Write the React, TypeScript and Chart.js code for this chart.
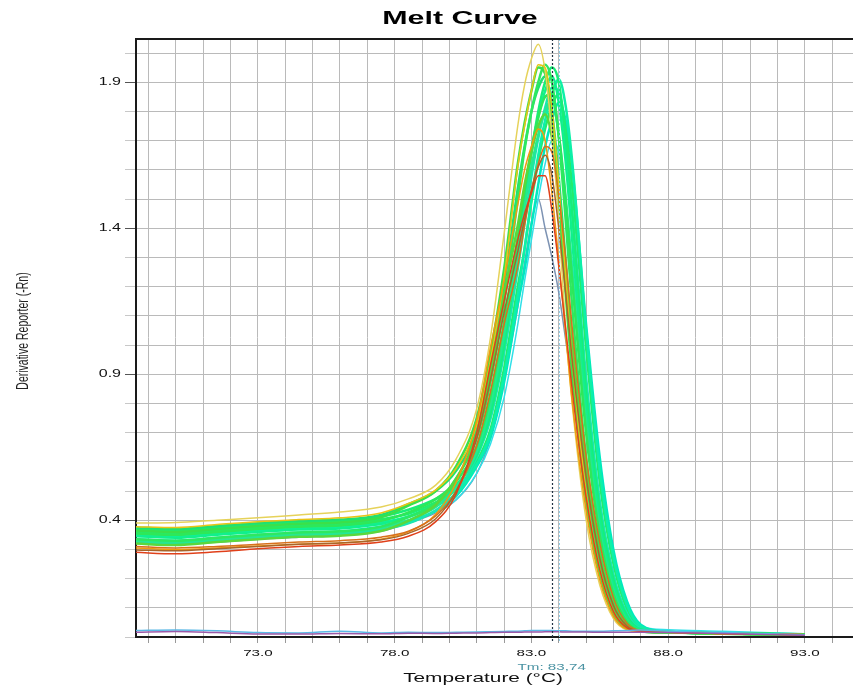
import React, { useEffect, useRef } from 'react';
import { Chart, registerables } from 'chart.js';

Chart.register(...registerables);

// Temperature sample points (°C)
const TEMPS = [68.5, 70, 71.5, 73, 74.5, 76, 77.5, 78.5, 79.5, 80.25, 81, 81.5, 82, 82.5, 82.75, 83, 83.25, 83.5, 83.75, 84, 84.25, 84.5, 85, 85.5, 86, 86.5, 87, 88, 90, 93];

// Derivative reporter (-Rn) per well
const G1 = [0.365, 0.360, 0.370, 0.380, 0.388, 0.392, 0.410, 0.450, 0.500, 0.585, 0.750, 0.970, 1.260, 1.620, 1.760, 1.870, 1.950, 1.930, 1.740, 1.490, 1.180, 0.890, 0.466, 0.214, 0.079, 0.029, 0.019, 0.016, 0.012, 0.008];
const G2 = [0.375, 0.370, 0.380, 0.390, 0.398, 0.402, 0.418, 0.455, 0.500, 0.570, 0.710, 0.920, 1.200, 1.535, 1.680, 1.800, 1.880, 1.920, 1.800, 1.575, 1.290, 0.990, 0.530, 0.250, 0.095, 0.033, 0.020, 0.016, 0.012, 0.009];
const G3 = [0.335, 0.330, 0.340, 0.350, 0.358, 0.362, 0.378, 0.411, 0.458, 0.544, 0.682, 0.872, 1.140, 1.500, 1.670, 1.800, 1.900, 1.960, 1.900, 1.710, 1.430, 1.120, 0.614, 0.298, 0.121, 0.042, 0.021, 0.016, 0.011, 0.008];
const G4 = [0.355, 0.350, 0.360, 0.370, 0.378, 0.382, 0.398, 0.427, 0.472, 0.533, 0.654, 0.824, 1.080, 1.370, 1.530, 1.670, 1.780, 1.850, 1.860, 1.720, 1.490, 1.210, 0.698, 0.346, 0.147, 0.051, 0.022, 0.016, 0.012, 0.008];
const G5 = [0.345, 0.340, 0.350, 0.360, 0.368, 0.372, 0.388, 0.413, 0.456, 0.515, 0.632, 0.782, 1.024, 1.340, 1.510, 1.660, 1.780, 1.870, 1.920, 1.830, 1.630, 1.350, 0.790, 0.402, 0.178, 0.063, 0.024, 0.016, 0.012, 0.008];
const G6 = [0.325, 0.320, 0.330, 0.340, 0.348, 0.352, 0.368, 0.389, 0.434, 0.495, 0.616, 0.746, 0.972, 1.260, 1.418, 1.576, 1.708, 1.812, 1.880, 1.870, 1.692, 1.448, 0.890, 0.466, 0.214, 0.079, 0.029, 0.017, 0.012, 0.008];
const G7 = [0.360, 0.355, 0.365, 0.375, 0.383, 0.387, 0.403, 0.422, 0.461, 0.505, 0.600, 0.710, 0.920, 1.200, 1.330, 1.490, 1.630, 1.740, 1.820, 1.860, 1.740, 1.530, 0.990, 0.530, 0.250, 0.095, 0.033, 0.017, 0.012, 0.008];
const G8 = [0.335, 0.330, 0.340, 0.350, 0.358, 0.362, 0.378, 0.395, 0.432, 0.482, 0.584, 0.682, 0.872, 1.140, 1.260, 1.410, 1.550, 1.680, 1.770, 1.830, 1.770, 1.600, 1.070, 0.614, 0.298, 0.121, 0.042, 0.018, 0.013, 0.009];
const G9 = [0.320, 0.315, 0.325, 0.335, 0.343, 0.347, 0.363, 0.398, 0.452, 0.542, 0.696, 0.896, 1.170, 1.410, 1.550, 1.660, 1.750, 1.790, 1.710, 1.520, 1.270, 1.000, 0.572, 0.274, 0.108, 0.037, 0.020, 0.016, 0.011, 0.008];
const G10 = [0.370, 0.365, 0.375, 0.385, 0.393, 0.397, 0.413, 0.436, 0.473, 0.520, 0.624, 0.764, 0.998, 1.320, 1.500, 1.660, 1.800, 1.900, 1.950, 1.900, 1.710, 1.440, 0.840, 0.434, 0.196, 0.071, 0.026, 0.017, 0.012, 0.009];
const G11 = [0.330, 0.325, 0.335, 0.345, 0.353, 0.357, 0.373, 0.400, 0.445, 0.512, 0.636, 0.796, 1.040, 1.310, 1.470, 1.610, 1.720, 1.800, 1.840, 1.720, 1.510, 1.240, 0.740, 0.370, 0.160, 0.055, 0.022, 0.016, 0.012, 0.008];
const G12 = [0.350, 0.345, 0.355, 0.365, 0.373, 0.377, 0.393, 0.411, 0.449, 0.491, 0.592, 0.696, 0.896, 1.170, 1.330, 1.500, 1.650, 1.770, 1.860, 1.910, 1.820, 1.620, 1.050, 0.572, 0.274, 0.108, 0.037, 0.018, 0.013, 0.009];
const Y1 = [0.390, 0.392, 0.400, 0.408, 0.418, 0.428, 0.445, 0.473, 0.520, 0.610, 0.782, 1.024, 1.380, 1.750, 1.890, 1.980, 2.030, 1.940, 1.720, 1.420, 1.060, 0.790, 0.402, 0.178, 0.063, 0.024, 0.019, 0.016, 0.012, 0.008];
const Y2 = [0.378, 0.375, 0.385, 0.395, 0.402, 0.408, 0.425, 0.457, 0.504, 0.578, 0.728, 0.946, 1.230, 1.610, 1.750, 1.870, 1.960, 1.950, 1.810, 1.550, 1.240, 0.940, 0.498, 0.232, 0.087, 0.031, 0.020, 0.016, 0.012, 0.008];
const O1 = [0.305, 0.300, 0.305, 0.312, 0.318, 0.322, 0.335, 0.360, 0.420, 0.530, 0.740, 0.990, 1.220, 1.480, 1.600, 1.680, 1.740, 1.700, 1.520, 1.290, 1.040, 0.800, 0.434, 0.196, 0.071, 0.026, 0.019, 0.016, 0.012, 0.008];
const O2 = [0.310, 0.305, 0.310, 0.318, 0.325, 0.330, 0.342, 0.362, 0.415, 0.500, 0.655, 0.840, 1.070, 1.270, 1.410, 1.530, 1.620, 1.680, 1.660, 1.510, 1.300, 1.050, 0.620, 0.322, 0.134, 0.046, 0.021, 0.016, 0.012, 0.008];
const R1 = [0.290, 0.285, 0.292, 0.302, 0.310, 0.315, 0.325, 0.345, 0.395, 0.490, 0.700, 0.930, 1.150, 1.360, 1.450, 1.520, 1.580, 1.580, 1.460, 1.270, 1.060, 0.840, 0.480, 0.230, 0.087, 0.031, 0.020, 0.016, 0.012, 0.008];
const B1 = [0.298, 0.295, 0.302, 0.310, 0.318, 0.322, 0.333, 0.355, 0.405, 0.500, 0.680, 0.880, 1.110, 1.320, 1.430, 1.530, 1.610, 1.650, 1.580, 1.400, 1.180, 0.940, 0.550, 0.270, 0.108, 0.037, 0.020, 0.016, 0.012, 0.008];
const GB = [0.320, 0.318, 0.325, 0.335, 0.342, 0.348, 0.362, 0.390, 0.425, 0.470, 0.560, 0.680, 0.880, 1.130, 1.280, 1.420, 1.500, 1.400, 1.300, 1.180, 1.020, 0.860, 0.520, 0.260, 0.100, 0.035, 0.020, 0.016, 0.012, 0.008];
const CY = [0.355, 0.352, 0.360, 0.368, 0.372, 0.376, 0.385, 0.400, 0.430, 0.470, 0.560, 0.660, 0.820, 1.070, 1.220, 1.360, 1.500, 1.620, 1.700, 1.660, 1.500, 1.280, 0.800, 0.420, 0.200, 0.075, 0.035, 0.025, 0.020, 0.010];
const N1 = [0.016, 0.019, 0.015, 0.010, 0.010, 0.012, 0.011, 0.013, 0.012, 0.013, 0.014, 0.015, 0.016, 0.016, 0.017, 0.017, 0.017, 0.018, 0.018, 0.018, 0.017, 0.017, 0.017, 0.016, 0.016, 0.016, 0.016, 0.015, 0.012, 0.006];
const N2 = [0.022, 0.024, 0.021, 0.015, 0.014, 0.020, 0.014, 0.016, 0.015, 0.016, 0.017, 0.018, 0.019, 0.020, 0.021, 0.022, 0.022, 0.022, 0.022, 0.021, 0.021, 0.020, 0.020, 0.020, 0.021, 0.022, 0.024, 0.020, 0.015, 0.008];

// Axis ticks / labels
const X_GRID = [69, 70, 71, 72, 73, 74, 75, 76, 77, 78, 79, 80, 81, 82, 83, 84, 85, 86, 87, 88, 89, 90, 91, 92, 93, 94];
const X_LABELS = [73, 78, 83, 88, 93];
const Y_GRID = [0, 0.1, 0.2, 0.3, 0.4, 0.5, 0.6, 0.7, 0.8, 0.9, 1.0, 1.1, 1.2, 1.3, 1.4, 1.5, 1.6, 1.7, 1.8, 1.9, 2.0];
const Y_LABELS = [0.4, 0.9, 1.4, 1.9];
const TM = 83.74;
const TM_MARK2 = 84.0;
const TM_TEXT = 'Tm: 83,74';
const TITLE = 'Melt Curve';
const X_TITLE = 'Temperature (°C)';
const Y_TITLE = 'Derivative Reporter (-Rn)';

const SERIES = [
  { values: N1, color: '#9b5aa8', width: 1.5 },
  { values: N2, color: '#5ab8e6', width: 1.5 },
  { values: R1, color: '#e0401a', width: 1.5 },
  { values: B1, color: '#a8642a', width: 1.5 },
  { values: O2, color: '#d8701c', width: 1.5 },
  { values: O1, color: '#f09a10', width: 1.5 },
  { values: Y2, color: '#e8c417', width: 1.5 },
  { values: Y1, color: '#e6d25a', width: 1.5 },
  { values: G9, color: '#5ad83c', width: 2.5 },
  { values: G1, color: '#3be04a', width: 2.5 },
  { values: G3, color: '#2ee860', width: 2.5 },
  { values: G2, color: '#20e070', width: 2.5 },
  { values: G4, color: '#2ee858', width: 2.5 },
  { values: G11, color: '#26e890', width: 2.5 },
  { values: G5, color: '#10f08c', width: 2.5 },
  { values: G10, color: '#18ee78', width: 2.5 },
  { values: G6, color: '#19e6b0', width: 2.5 },
  { values: G12, color: '#0ef0a8', width: 2.5 },
  { values: G7, color: '#22ec6c', width: 2.5 },
  { values: G8, color: '#00e8c0', width: 2.5 },
  { values: CY, color: '#30e0e8', width: 1.5 },
  { values: GB, color: '#7d93b3', width: 1.5 },
];

const STRETCH = 1.6;
const FONT = '"Liberation Sans", Arial, sans-serif';

function stretchedText(ctx: CanvasRenderingContext2D, text: string, x: number, y: number, font: string, color: string, align: CanvasTextAlign, baseline: CanvasTextBaseline, rotate = false) {
  ctx.save();
  ctx.font = font;
  ctx.fillStyle = color;
  ctx.textAlign = align;
  ctx.textBaseline = baseline;
  ctx.translate(x, y);
  ctx.scale(STRETCH, 1);
  if (rotate) ctx.rotate(-Math.PI / 2);
  ctx.fillText(text, 0, 0);
  ctx.restore();
}

const decorPlugin = {
  id: 'decor',
  afterDatasetsDraw(chart: any) {
    const ctx = chart.ctx as CanvasRenderingContext2D;
    const area = chart.chartArea;
    const xs = chart.scales.x;
    ctx.save();
    const x2 = Math.round(xs.getPixelForValue(TM_MARK2)) + 0.5;
    ctx.strokeStyle = '#8fd0ea';
    ctx.lineWidth = 1;
    ctx.setLineDash([2, 2]);
    ctx.beginPath();
    ctx.moveTo(x2, area.top);
    ctx.lineTo(x2, area.bottom + 5);
    ctx.stroke();
    const x1 = Math.round(xs.getPixelForValue(TM)) + 0.5;
    ctx.strokeStyle = '#223344';
    ctx.lineWidth = 1.2;
    ctx.setLineDash([2, 2]);
    ctx.beginPath();
    ctx.moveTo(x1, area.top);
    ctx.lineTo(x1, area.bottom + 6);
    ctx.stroke();
    ctx.restore();
  },
  afterDraw(chart: any) {
    const ctx = chart.ctx as CanvasRenderingContext2D;
    const area = chart.chartArea;
    const xs = chart.scales.x;
    const ys = chart.scales.y;
    ctx.save();
    ctx.strokeStyle = '#1a1a1a';
    ctx.lineWidth = 2;
    ctx.beginPath();
    ctx.moveTo(area.left - 1, area.top);
    ctx.lineTo(area.right, area.top);
    ctx.stroke();
    ctx.restore();
    stretchedText(ctx, TITLE, 460, 24, `bold 19px ${FONT}`, '#000', 'center', 'alphabetic');
    for (const v of Y_LABELS) {
      stretchedText(ctx, v.toFixed(1), area.left - 15, ys.getPixelForValue(v), `10px ${FONT}`, '#111', 'right', 'middle');
    }
    for (const v of X_LABELS) {
      stretchedText(ctx, v.toFixed(1), xs.getPixelForValue(v), area.bottom + 16, `9.5px ${FONT}`, '#111', 'center', 'middle');
    }
    stretchedText(ctx, TM_TEXT, xs.getPixelForValue(TM), area.bottom + 30, `9.5px ${FONT}`, '#4b93a3', 'center', 'middle');
    stretchedText(ctx, X_TITLE, 483, 682, `13px ${FONT}`, '#111', 'center', 'alphabetic');
    stretchedText(ctx, Y_TITLE, 23, 331, `10.5px ${FONT}`, '#222', 'center', 'middle', true);
  },
};

export default function App() {
  const ref = useRef<HTMLCanvasElement | null>(null);
  useEffect(() => {
    if (!ref.current) return;
    const chart = new Chart(ref.current, {
      type: 'line',
      data: {
        datasets: SERIES.map((s) => ({
          data: TEMPS.map((t, i) => ({ x: t, y: s.values[i] })),
          borderColor: s.color,
          borderWidth: s.width,
          pointRadius: 0,
          fill: false,
          cubicInterpolationMode: 'monotone' as const,
        })),
      },
      options: {
        animation: false,
        responsive: false,
        devicePixelRatio: 1,
        layout: { padding: { top: 39, left: 0, right: 0, bottom: 0 } },
        plugins: {
          legend: { display: false },
          tooltip: { enabled: false },
          title: { display: false },
        },
        scales: {
          x: {
            type: 'linear',
            min: 68.54,
            max: 94.76,
            afterBuildTicks: (s: any) => {
              s.ticks = X_GRID.map((v) => ({ value: v }));
            },
            afterFit: (s: any) => {
              s.height = 49;
            },
            ticks: { display: false },
            grid: { color: '#bababa', lineWidth: 1, drawTicks: true, tickLength: 6, tickColor: '#9a9a9a' },
            border: { display: true, color: '#1a1a1a', width: 2 },
          },
          y: {
            type: 'linear',
            min: 0,
            max: 2.048,
            afterBuildTicks: (s: any) => {
              s.ticks = Y_GRID.map((v) => ({ value: v }));
            },
            afterFit: (s: any) => {
              s.width = 136;
            },
            ticks: { display: false },
            grid: {
              color: '#bababa',
              lineWidth: 1,
              drawTicks: true,
              tickLength: 11,
              tickColor: (c: any) =>
                c.tick && Y_LABELS.some((v) => Math.abs(v - c.tick.value) < 1e-6) ? '#555555' : '#c8c8c8',
            },
            border: { display: true, color: '#1a1a1a', width: 2 },
          },
        },
      },
      plugins: [decorPlugin],
    } as any);
    return () => chart.destroy();
  }, []);
  return (
    <div style={{ position: 'absolute', left: 0, top: 0, width: 853, height: 686, background: '#fff' }}>
      <canvas ref={ref} width={853} height={686} style={{ display: 'block', width: 853, height: 686 }} />
    </div>
  );
}
